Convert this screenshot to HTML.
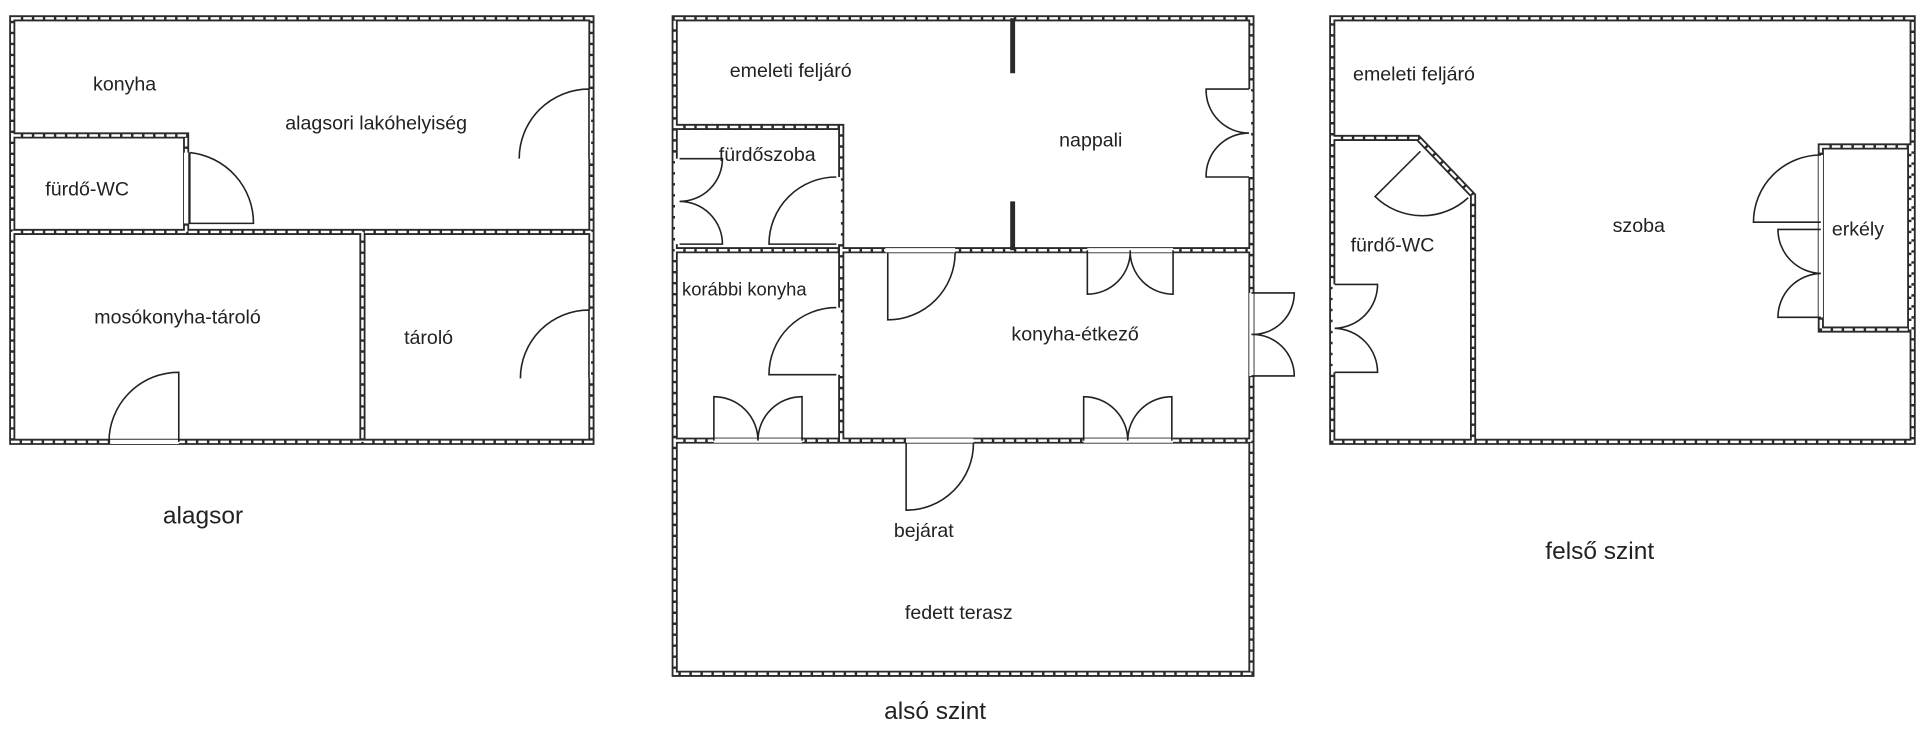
<!DOCTYPE html>
<html><head><meta charset="utf-8"><style>
html,body{margin:0;padding:0;background:#fff;}
svg{display:block}
text{font-family:"Liberation Sans",sans-serif;fill:#222;}
</style></head><body>
<svg width="1920" height="747" viewBox="0 0 1568 612" preserveAspectRatio="none">
<defs>
<style>
.w{fill:none;stroke:#2a2a2a;stroke-width:5;stroke-linejoin:miter}
.wi{fill:none;stroke:#fff;stroke-width:2;stroke-dasharray:7 2}
.d{fill:none;stroke:#222;stroke-width:1.3}
.t{font-size:16px}
.c{font-size:20px}
</style>
</defs>
<g class="w"><path d="M10,15 H483 V362 H10 Z M10,190 H483 M10,111 H152 V190 M296,190 V362"/><path d="M551,15 H1022 V552 H551 Z M551,205 H1022 M551,361 H1022 M551,104 H687 V361"/><path d="M1088,15 H1562 V362 H1088 Z M1088,113 H1158 L1203,160 V362 M1487,120 H1560 V270 H1487 Z"/></g>
<g class="wi"><path d="M10,15 H483 V362 H10 Z M10,190 H483 M10,111 H152 V190 M296,190 V362"/><path d="M551,15 H1022 V552 H551 Z M551,205 H1022 M551,361 H1022 M551,104 H687 V361"/><path d="M1088,15 H1562 V362 H1088 Z M1088,113 H1158 L1203,160 V362 M1487,120 H1560 V270 H1487 Z"/></g>
<g stroke="#fff" stroke-width="3.5">
<line x1="481" y1="73" x2="481" y2="130"/><line x1="481" y1="254" x2="481" y2="310"/>
<line x1="90" y1="362" x2="146" y2="362"/><line x1="152" y1="125" x2="152" y2="183"/>
<line x1="1020" y1="73" x2="1020" y2="145"/><line x1="553" y1="130" x2="553" y2="200"/>
<line x1="685" y1="145" x2="685" y2="200"/><line x1="685" y1="252" x2="685" y2="307"/>
<line x1="583" y1="361" x2="655" y2="361"/><line x1="885" y1="361" x2="958" y2="361"/>
<line x1="888" y1="205" x2="958" y2="205"/><line x1="723" y1="205" x2="780" y2="205"/>
<line x1="740" y1="361" x2="795" y2="361"/><line x1="1022" y1="240" x2="1022" y2="308"/>
<line x1="1090" y1="233" x2="1090" y2="305"/><line x1="1487" y1="127" x2="1487" y2="260"/>
</g>
<path d="M827,15 V60 M827,165 V205" stroke="#2a2a2a" stroke-width="4"/>
<g class="d">
<path d="M481,130 L481,73 A57 57 0 0 0 424,130"/>
<path d="M155,125 L155,183 L207,183 A58 58 0 0 0 155,125"/>
<path d="M146,362 L146,305 A57 57 0 0 0 89,362"/>
<path d="M481,310 L481,254 A56 56 0 0 0 425,310"/>
<path d="M1020,73 L985,73 A35 35 0 0 0 1020,109 M1020,145 L985,145 A35 35 0 0 1 1020,109"/>
<path d="M555,130 L590,130 A35 35 0 0 1 555,165 M555,200 L590,200 A35 35 0 0 0 555,165"/>
<path d="M683,200 L628,200 A55 55 0 0 1 683,145"/>
<path d="M683,307 L628,307 A55 55 0 0 1 683,252"/>
<path d="M583,361 L583,325 A36 36 0 0 1 619,361 M655,361 L655,325 A36 36 0 0 0 619,361"/>
<path d="M885,361 L885,325 A36 36 0 0 1 921,361 M957,361 L957,325 A36 36 0 0 0 921,361"/>
<path d="M888,205 L888,241 A35 35 0 0 0 923,205 M958,205 L958,241 A35 35 0 0 1 923,205"/>
<path d="M725,207 L725,262 A55 55 0 0 0 780,207"/>
<path d="M740,363 L740,418 A55 55 0 0 0 795,363"/>
<path d="M1022,240 L1057,240 A34 34 0 0 1 1022,274 M1022,308 L1057,308 A34 34 0 0 0 1022,274"/>
<path d="M1160,124 L1123,161 A55 55 0 0 0 1199,162"/>
<path d="M1090,233 L1125,233 A36 36 0 0 1 1090,269 M1090,305 L1125,305 A36 36 0 0 0 1090,269"/>
<path d="M1487,182 L1432,182 A55 55 0 0 1 1487,127"/>
<path d="M1487,188 L1452,188 A36 36 0 0 0 1487,224 M1487,260 L1452,260 A36 36 0 0 1 1487,224"/>
</g>
<g class="t">
<text x="76" y="74">konyha</text>
<text x="233" y="106">alagsori lakóhelyiség</text>
<text x="37" y="160">fürdő-WC</text>
<text x="77" y="265">mosókonyha-tároló</text>
<text x="330" y="282">tároló</text>
<text x="596" y="63">emeleti feljáró</text>
<text x="865" y="120">nappali</text>
<text x="587" y="132">fürdőszoba</text>
<text x="557" y="242" style="font-size:15px">korábbi konyha</text>
<text x="826" y="279">konyha-étkező</text>
<text x="730" y="440">bejárat</text>
<text x="739" y="507">fedett terasz</text>
<text x="1105" y="66">emeleti feljáró</text>
<text x="1103" y="206">fürdő-WC</text>
<text x="1317" y="190">szoba</text>
<text x="1496" y="193">erkély</text>
</g>
<g class="c">
<text x="133" y="429">alagsor</text>
<text x="722" y="589">alsó szint</text>
<text x="1262" y="458">felső szint</text>
</g>
</svg>
</body></html>
